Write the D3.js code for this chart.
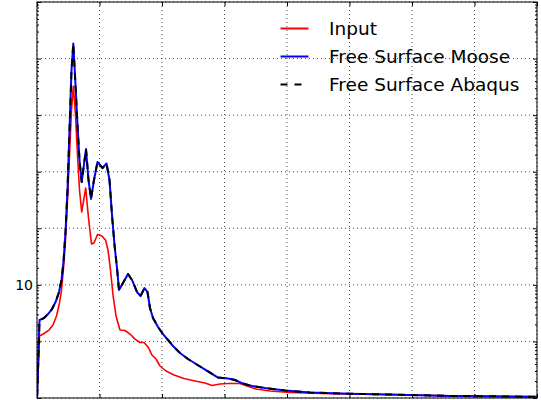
<!DOCTYPE html>
<html><head><meta charset="utf-8">
<script src="https://cdn.jsdelivr.net/npm/d3@7"></script>
<style>body{margin:0;background:#fff}svg{display:block}</style>
</head><body><svg id="c" width="541" height="400"></svg>
<script>
// ---- data ----
const seriesNames = ["Input", "Free Surface Moose", "Free Surface Abaqus"];
const freqInput = [0.03,0.4,1.12,1.92,2.56,3.12,3.6,3.92,4.24,4.56,4.88,5.2,5.52,5.81,6.16,6.48,6.8,7.15,7.79,8.24,8.72,9.12,9.68,10.4,10.96,11.36,11.76,12.16,12.64,13.28,14.08,14.88,15.68,16.48,17.12,17.76,18.4,19.04,19.68,20.64,21.92,23.52,25.28,26.88,28.0,29.28,30.56,32.48,33.6,35.04,37.28,40.48,46.88,58.08,66.08,80];
const input = [0.108,1.25,1.38,1.59,1.95,2.82,4.78,8.11,19.9,62.1,316,1980,12300,32700,10100,1980,475,194,515,152,52.7,54.9,77.6,73.1,62.1,41.3,18.3,6.62,2.82,1.59,1.56,1.35,1.10,0.957,0.957,0.798,0.575,0.489,0.368,0.300,0.255,0.221,0.200,0.184,0.166,0.177,0.180,0.180,0.163,0.144,0.133,0.125,0.119,0.114,0.109,0.105];
const freqMoose = [0.03,0.4,1.12,1.76,2.4,3.04,3.52,3.92,4.24,4.56,4.88,5.2,5.52,5.81,6.16,6.48,6.8,7.15,7.84,8.24,8.64,9.12,9.68,10.48,11.12,11.6,12.0,12.4,12.8,13.12,13.76,14.56,15.2,16.0,16.56,17.2,17.68,18.08,18.56,19.36,20.16,20.96,21.76,22.88,24.16,25.44,26.72,28.0,28.96,30.56,31.68,32.96,34.4,36.48,39.68,43.68,50.08,58.08,66.08,80];
const moose = [0.108,2.39,2.59,3.05,3.74,5.19,7.48,12.2,25.4,85.9,475,5460,62800,185000,34100,6700,1610,658,2520,714,330,714,1490,1160,1400,714,172,50.7,19.9,8.11,10.8,15.6,12.2,7.48,6.35,8.79,7.48,3.90,2.59,1.80,1.35,1.06,0.830,0.624,0.489,0.399,0.326,0.266,0.230,0.221,0.208,0.180,0.163,0.150,0.136,0.125,0.119,0.114,0.109,0.105];
const freqAbaqus = freqMoose.slice();
const abaqus = [0.108,2.39,2.59,3.05,3.74,5.19,7.48,12.2,25.4,85.9,475,5460,62800,185000,34100,6700,1610,658,2520,714,330,714,1490,1160,1400,714,172,50.7,19.9,8.11,10.8,15.6,12.2,7.48,6.35,8.79,7.48,3.90,2.59,1.80,1.35,1.06,0.830,0.624,0.489,0.399,0.326,0.266,0.230,0.221,0.208,0.180,0.163,0.150,0.136,0.125,0.119,0.114,0.109,0.105];
const xTicks = [0,10,20,30,40,50,60,70,80];
const yTicks = [0.1,1,10,100,1000,10000,100000,1000000];
const yTickLabels = ["","","10","","","","",""];

// ---- layout ----
const L = 37, R = 537, T = 2, B = 398;
const svg = d3.select("#c");
const x = d3.scaleLinear().domain([0, 80]).range([L, R]);
const y = d3.scaleLog().domain([0.1, 1e6]).range([B, T]);

const yMinor = [];
for (let d = 0.1; d < 1e6; d *= 10) for (let k = 2; k <= 9; k++) yMinor.push(d * k);

svg.append("defs").append("clipPath").attr("id", "clip")
  .append("rect").attr("x", L).attr("y", T).attr("width", R - L).attr("height", B - T);

// grid
const grid = svg.append("g").attr("stroke", "#000").attr("stroke-width", 0.7).attr("stroke-dasharray", "1,3");
grid.selectAll(".gx").data(xTicks).join("line")
  .attr("x1", d => x(d)).attr("x2", d => x(d)).attr("y1", T).attr("y2", B);
grid.selectAll(".gy").data(yTicks).join("line")
  .attr("y1", d => y(d)).attr("y2", d => y(d)).attr("x1", L).attr("x2", R);

// data
const lines = svg.append("g").attr("clip-path", "url(#clip)").attr("fill", "none").attr("stroke-linejoin", "round");
function draw(fx, vy, color, w, dash) {
  const line = d3.line().x((d, i) => x(fx[i])).y(d => y(d));
  const p = lines.append("path").attr("d", line(vy)).attr("stroke", color).attr("stroke-width", w);
  if (dash) p.attr("stroke-dasharray", dash);
}
draw(freqInput, input, "#ff0000", 1.6);
draw(freqMoose, moose, "#0000ff", 2);
draw(freqAbaqus, abaqus, "#000000", 2, "7,6");

// axes (ticks inside, all four sides)
function ax(gen, tx, ty) {
  const g = svg.append("g").attr("transform", `translate(${tx},${ty})`).call(gen);
  g.select(".domain").remove();
  g.selectAll("line").attr("stroke", "#000").attr("stroke-width", 1);
  return g;
}
const left = ax(d3.axisLeft(y).tickValues(yTicks).tickSize(-4).tickPadding(4)
  .tickFormat((d, i) => yTickLabels[i]), L, 0);
left.selectAll("text").attr("font-family", "DejaVu Sans").attr("font-size", 14).attr("fill", "#000");
ax(d3.axisLeft(y).tickValues(yMinor).tickSize(-2).tickFormat(""), L, 0);
ax(d3.axisRight(y).tickValues(yTicks).tickSize(-4).tickFormat(""), R, 0);
ax(d3.axisRight(y).tickValues(yMinor).tickSize(-2).tickFormat(""), R, 0);
ax(d3.axisBottom(x).tickValues(xTicks).tickSize(-4).tickFormat(""), 0, B);
ax(d3.axisTop(x).tickValues(xTicks).tickSize(-4).tickFormat(""), 0, T);

// frame
svg.append("rect").attr("x", L).attr("y", T).attr("width", R - L).attr("height", B - T)
  .attr("fill", "none").attr("stroke", "#000").attr("stroke-width", 1);

// legend
const leg = svg.append("g").attr("font-family", "DejaVu Sans").attr("font-size", 18.5);
const legColors = ["#ff0000", "#0000ff", "#000000"];
const legDash = [null, null, "7,7"];
seriesNames.forEach((n, i) => {
  const yy = 28.5 + i * 28;
  const l = leg.append("line").attr("x1", 280.5).attr("x2", 308.5).attr("y1", yy).attr("y2", yy)
    .attr("stroke", legColors[i]).attr("stroke-width", 2);
  if (legDash[i]) l.attr("stroke-dasharray", legDash[i]);
  leg.append("text").attr("x", 329).attr("y", yy).attr("dy", "0.35em").text(n);
});
</script></body></html>
